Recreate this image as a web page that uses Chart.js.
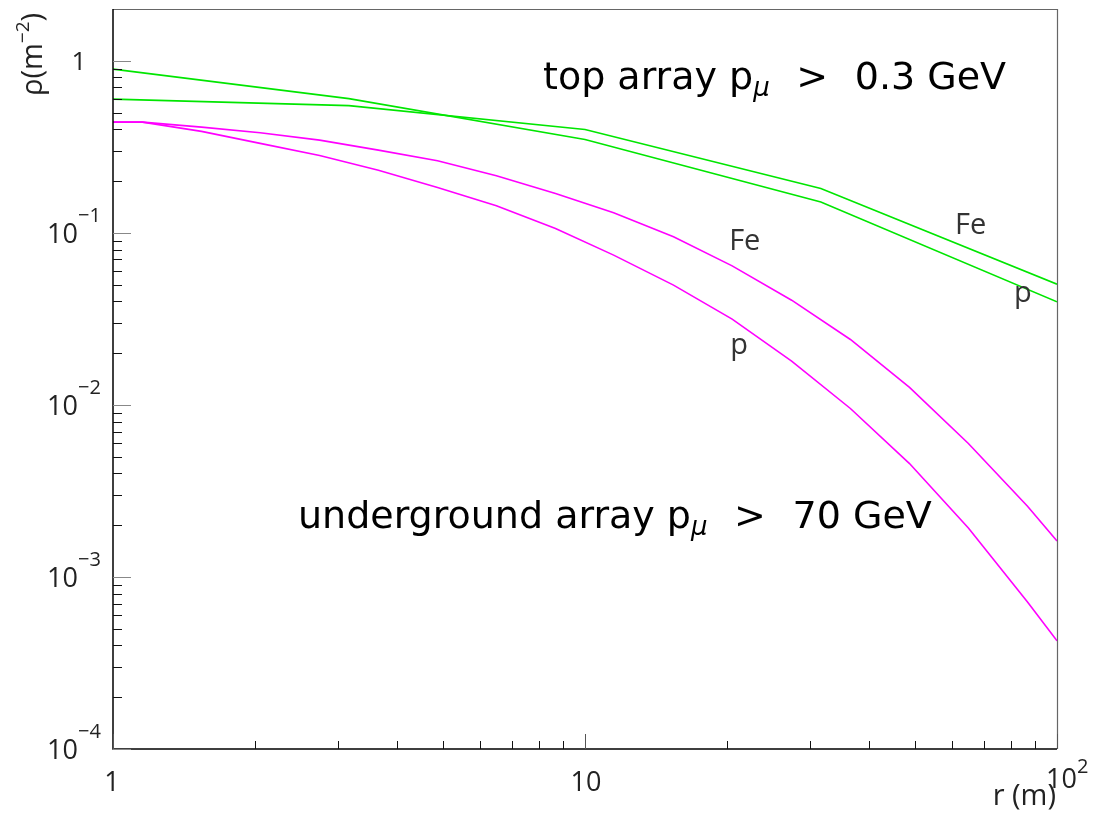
<!DOCTYPE html>
<html>
<head>
<meta charset="utf-8">
<script src="https://cdn.jsdelivr.net/npm/chart.js@4.4.1/dist/chart.umd.min.js"></script>
<style>
  html, body { margin: 0; padding: 0; background: #fff; }
</style>
</head>
<body>
<canvas id="myChart" width="1095" height="817"></canvas>
<script>
// muon lateral density, radius in m, density in m^-2
const rUnder = [1, 1.155, 1.54, 2.05, 2.74, 3.65, 4.87, 6.49, 8.66, 11.5, 15.4, 20.5, 27.4, 36.5, 48.7, 64.9, 86.6, 100];
const feUnder = [0.440, 0.440, 0.4115, 0.3815, 0.346, 0.3026, 0.2622, 0.2145, 0.1694, 0.1307, 0.0948, 0.0643, 0.0406, 0.0240, 0.01263, 0.00597, 0.002577, 0.00162];
const pUnder = [0.440, 0.440, 0.3887, 0.3311, 0.2818, 0.2314, 0.1836, 0.1435, 0.1061, 0.0742, 0.0497, 0.0315, 0.01795, 0.00953, 0.00456, 0.001927, 0.000716, 0.000425];

const rTop = [1, 3.16, 10, 31.6, 100];
const feTop = [0.599, 0.549, 0.399, 0.181, 0.0503];
const pTop = [0.895, 0.603, 0.349, 0.151, 0.0397];

// curve labels: text, r, rho at the label baseline
const curveLabels = [
    { text: 'Fe', r: 20.2, rho: 0.0793 },
    { text: 'p', r: 20.3, rho: 0.0197 },
    { text: 'Fe', r: 60.8, rho: 0.0983 },
    { text: 'p', r: 81.1, rho: 0.0395 }
];

const xMajor = [1, 10, 100];
const yMajor = [1, 0.1, 0.01, 0.001, 0.0001];
const yExp = ['', '\u22121', '\u22122', '\u22123', '\u22124'];

const GREEN = '#00e600';
const MAGENTA = '#ff00ff';
const LABEL_FONT = '"Open Sans", "DejaVu Sans", sans-serif';
const TITLE_FONT = '"DejaVu Sans", sans-serif';
const GT = '\u2002\u2009>\u2002\u2009';

function toPoints(xs, ys) {
    return xs.map((x, i) => ({ x: x, y: ys[i] }));
}

// text with a raised or lowered smaller part, returns end x
function drawPieces(ctx, pieces, x, y) {
    let cx = x;
    pieces.forEach(p => {
        ctx.font = p.font;
        ctx.fillText(p.text, cx, y + (p.dy || 0));
        cx += ctx.measureText(p.text).width;
    });
    return cx;
}

const framePlugin = {
    id: 'frame',
    afterDraw(chart) {
        const ctx = chart.ctx;
        const a = chart.chartArea;
        const xs = chart.scales.x;
        const ys = chart.scales.y;
        ctx.save();

        // top / right border
        ctx.strokeStyle = '#666';
        ctx.lineWidth = 1.2;
        ctx.beginPath();
        ctx.moveTo(a.left, a.top + 0.5);
        ctx.lineTo(a.right + 0.5, a.top + 0.5);
        ctx.lineTo(a.right + 0.5, a.bottom);
        ctx.stroke();

        // left / bottom axes
        ctx.strokeStyle = '#000';
        ctx.lineWidth = 1.5;
        ctx.beginPath();
        ctx.moveTo(a.left, a.top);
        ctx.lineTo(a.left, a.bottom);
        ctx.lineTo(a.right, a.bottom);
        ctx.stroke();

        // y ticks
        ctx.lineWidth = 1;
        for (let e = -4; e <= 0; e++) {
            const base = Math.pow(10, e);
            const yMaj = Math.round(ys.getPixelForValue(base)) + 0.5;
            ctx.strokeStyle = '#888';
            ctx.beginPath();
            ctx.moveTo(a.left, yMaj);
            ctx.lineTo(a.left + 18, yMaj);
            ctx.stroke();
            ctx.strokeStyle = '#111';
            for (let m = 2; m <= 9; m++) {
                const v = m * base;
                if (v >= ys.max) continue;
                const yy = Math.round(ys.getPixelForValue(v)) + 0.5;
                ctx.beginPath();
                ctx.moveTo(a.left, yy);
                ctx.lineTo(a.left + 9, yy);
                ctx.stroke();
            }
        }

        // x ticks
        for (let e = 0; e <= 2; e++) {
            const base = Math.pow(10, e);
            const xMaj = Math.round(xs.getPixelForValue(base)) + 0.5;
            ctx.strokeStyle = '#555';
            ctx.beginPath();
            ctx.moveTo(xMaj, a.bottom);
            ctx.lineTo(xMaj, a.bottom - 15);
            ctx.stroke();
            if (e == 2) continue;
            ctx.strokeStyle = '#111';
            for (let m = 2; m <= 9; m++) {
                const xx = Math.round(xs.getPixelForValue(m * base)) + 0.5;
                ctx.beginPath();
                ctx.moveTo(xx, a.bottom);
                ctx.lineTo(xx, a.bottom - 8);
                ctx.stroke();
            }
        }

        ctx.fillStyle = '#222';
        ctx.textBaseline = 'alphabetic';

        // y tick labels
        yMajor.forEach((v, i) => {
            const yy = ys.getPixelForValue(v);
            if (i == 0) {
                ctx.font = '26px ' + LABEL_FONT;
                ctx.textAlign = 'center';
                ctx.fillText('1', 79, yy + 9);
                return;
            }
            ctx.textAlign = 'right';
            ctx.font = '27px ' + LABEL_FONT;
            ctx.fillText('10', 78, yy + 10);
            ctx.textAlign = 'left';
            ctx.font = '20px ' + LABEL_FONT;
            ctx.fillText(yExp[i], 78, yy - 11);
        });

        // x tick labels
        ctx.textAlign = 'center';
        ctx.font = '27px ' + LABEL_FONT;
        ctx.fillText('1', xs.getPixelForValue(xMajor[0]) - 1, 791);
        ctx.fillText('10', xs.getPixelForValue(xMajor[1]) + 1, 791);
        ctx.textAlign = 'right';
        ctx.fillText('10', 1077, 788);
        ctx.textAlign = 'left';
        ctx.font = '20px ' + LABEL_FONT;
        ctx.fillText('2', 1077, 773);

        // axis titles
        ctx.font = '29px ' + LABEL_FONT;
        ctx.textAlign = 'right';
        ctx.fillText('r (m)', 1056, 805);

        ctx.save();
        ctx.translate(42, 96);
        ctx.rotate(-Math.PI / 2);
        ctx.textAlign = 'left';
        drawPieces(ctx, [
            { text: '\u03c1(m', font: '29px ' + LABEL_FONT },
            { text: '\u22122', font: '19px ' + LABEL_FONT, dy: -13 },
            { text: ')', font: '29px ' + LABEL_FONT }
        ], 0, 0);
        ctx.restore();

        // curve labels
        ctx.textAlign = 'left';
        ctx.font = '29px ' + LABEL_FONT;
        ctx.fillStyle = '#333';
        curveLabels.forEach(l => {
            ctx.fillText(l.text, xs.getPixelForValue(l.r), ys.getPixelForValue(l.rho));
        });

        // cut annotations
        ctx.fillStyle = '#000';
        const big = '38px ' + TITLE_FONT;
        const sub = 'italic 26px ' + TITLE_FONT;
        drawPieces(ctx, [
            { text: 'top array p', font: big },
            { text: '\u03bc', font: sub, dy: 7 },
            { text: GT + '0.3 GeV', font: big }
        ], 543, 89);
        drawPieces(ctx, [
            { text: 'underground array p', font: big },
            { text: '\u03bc', font: sub, dy: 7 },
            { text: GT + '70 GeV', font: big }
        ], 298, 528);

        ctx.restore();
    }
};

const ctx = document.getElementById('myChart');

const data = {
    datasets: [
        { label: 'top Fe', data: toPoints(rTop, feTop), borderColor: GREEN },
        { label: 'top p', data: toPoints(rTop, pTop), borderColor: GREEN },
        { label: 'underground Fe', data: toPoints(rUnder, feUnder), borderColor: MAGENTA },
        { label: 'underground p', data: toPoints(rUnder, pUnder), borderColor: MAGENTA }
    ]
};

const config = {
    type: 'line',
    data: data,
    options: {
        responsive: false,
        animation: false,
        devicePixelRatio: 1,
        layout: {
            padding: { left: 113, right: 38, top: 9, bottom: 68 }
        },
        elements: {
            line: { borderWidth: 1.6, tension: 0, fill: false },
            point: { radius: 0 }
        },
        plugins: {
            legend: { display: false },
            tooltip: { enabled: false },
            title: { display: false }
        },
        scales: {
            x: { type: 'logarithmic', min: 1, max: 100, display: false },
            y: { type: 'logarithmic', min: 0.0001, max: 2, display: false }
        }
    },
    plugins: [framePlugin]
};

new Chart(ctx, config);
</script>
</body>
</html>
